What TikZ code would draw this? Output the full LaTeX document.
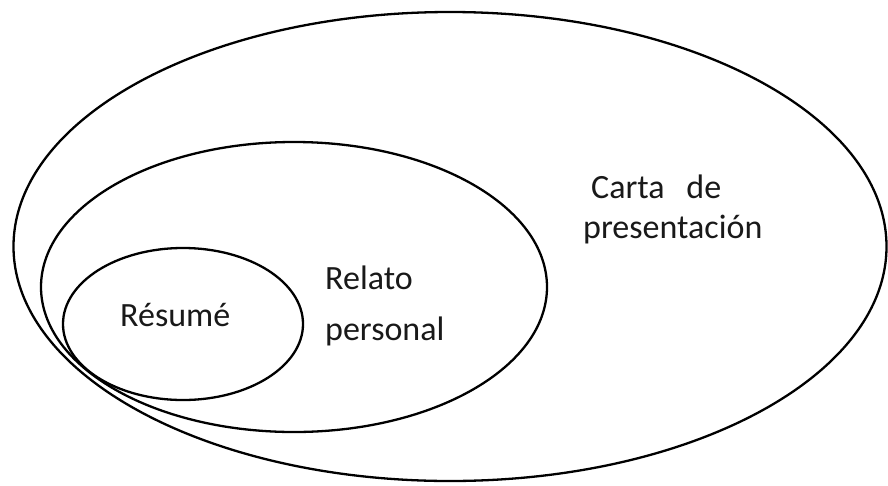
\documentclass[tikz,border=0pt]{standalone}
\usepackage{fontspec}
\setmainfont{Carlito}
\begin{document}
\begin{tikzpicture}[x=1pt,y=-1pt,
  ring/.style={draw=black,line width=2.3pt},
  label/.style={inner sep=0pt,anchor=base west,font=\fontsize{34}{40}\selectfont,text=black!90}]
\useasboundingbox (0,0) rectangle (888,485);
\fill[white] (0,0) rectangle (888,485);
\draw[ring] (450,246.5) ellipse [x radius=436.5, y radius=234.5];
\draw[ring] (294,287) ellipse [x radius=253, y radius=145];
\draw[ring] (183,324) ellipse [x radius=120, y radius=76];
\node[label] (resume) at (120,326) {Résumé};
\node[label] (relato1) at (325,289) {Relato};
\node[label] (relato2) at (325,340) {personal};
\node[label] (carta1) at (591,198) {Carta\hspace{14pt} de};
\node[label] (carta2) at (583,238) {presentación};
\end{tikzpicture}
\end{document}
